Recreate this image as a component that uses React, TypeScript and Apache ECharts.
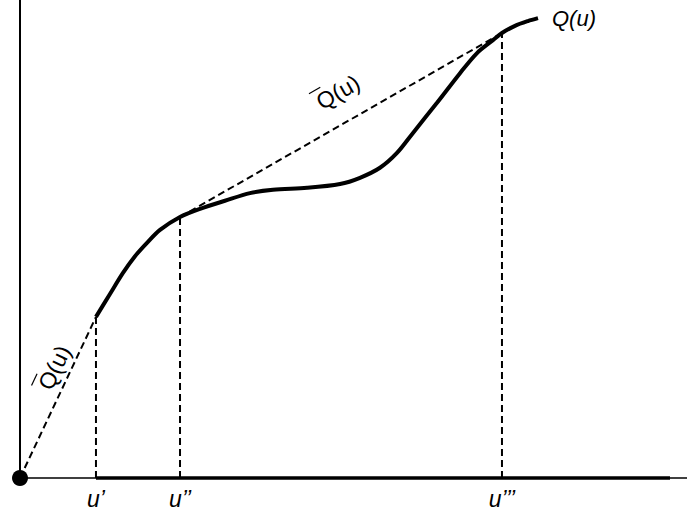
import React, { useEffect, useRef } from "react";
import * as echarts from "echarts";

// Curve Q(u): sampled points (u, Q)
const uValues = [11.39, 13.49, 15.44, 17.24, 19.04, 20.99, 23.99, 26.99, 30.73, 34.48, 37.93, 43.03, 47.98, 50.97, 53.97, 56.52, 58.92, 62.52, 65.97, 68.52, 70.91, 72.26, 74.21, 76.16, 77.66];
const qValues = [33.7, 38.5, 42.9, 46.4, 49.2, 51.9, 54.6, 56.3, 58.0, 59.6, 60.3, 60.7, 61.5, 62.8, 64.9, 68.0, 72.2, 78.5, 84.7, 88.9, 91.6, 93.1, 94.6, 95.6, 96.2];

// Marked abscissae and their curve heights
const markU = [11.39, 23.99, 72.26];
const markQ = [33.7, 54.6, 93.1];
const markLabels = ["u\u2019", "u\u2019\u2019", "u\u2019\u2019\u2019"];

// Axis extent
const xMax = 100;
const yMax = 100;
const thickAxisEnd = 97.45;

const FONT = "'Liberation Sans', Arial, sans-serif";
const DASH = { color: "#000", width: 2, type: [7, 4] };

export default function App() {
  const ref = useRef<HTMLDivElement>(null);
  useEffect(() => {
    if (!ref.current) return;
    const chart = echarts.init(ref.current, null, { renderer: "svg" });
    const curve = uValues.map((u, i) => [u, qValues[i]]);
    const verticals = markU.map((u, i) => ({
      type: "line",
      data: [[u, 0], [u, markQ[i]]],
      symbol: "none",
      silent: true,
      clip: false,
      lineStyle: DASH,
      z: 3,
    }));
    const option: any = {
      animation: false,
      backgroundColor: "#fff",
      grid: { left: 20, right: 0, top: 0, bottom: 38, containLabel: false },
      xAxis: {
        type: "value",
        min: 0,
        max: xMax,
        splitLine: { show: false },
        axisTick: { show: false },
        axisLine: { show: true, lineStyle: { color: "#000", width: 1.5 } },
        axisLabel: {
          show: true,
          customValues: markU,
          formatter: (v: number) => {
            let best = 0;
            markU.forEach((m, i) => {
              if (Math.abs(m - v) < Math.abs(markU[best] - v)) best = i;
            });
            return markLabels[best];
          },
          fontFamily: FONT,
          fontStyle: "italic",
          fontSize: 23,
          color: "#000",
          margin: 9,
        },
      },
      yAxis: {
        type: "value",
        min: 0,
        max: yMax,
        splitLine: { show: false },
        axisTick: { show: false },
        axisLabel: { show: false },
        axisLine: { show: true, lineStyle: { color: "#000", width: 2 } },
      },
      series: [
        {
          type: "line",
          data: [[markU[0], 0], [thickAxisEnd, 0]],
          symbol: "none",
          silent: true,
          clip: false,
          lineStyle: { color: "#000", width: 3.5 },
          z: 4,
        },
        {
          type: "line",
          data: [[0, 0], [markU[0], markQ[0]]],
          symbol: "none",
          silent: true,
          clip: false,
          lineStyle: DASH,
          z: 3,
        },
        {
          type: "line",
          data: [[markU[1], markQ[1]], [markU[2], markQ[2]]],
          symbol: "none",
          silent: true,
          clip: false,
          lineStyle: DASH,
          z: 3,
        },
        ...verticals,
        {
          type: "line",
          data: curve,
          symbol: "none",
          smooth: 0.3,
          silent: true,
          clip: false,
          lineStyle: { color: "#000", width: 4 },
          endLabel: {
            show: true,
            formatter: "Q(u)",
            fontFamily: FONT,
            fontStyle: "italic",
            fontSize: 22,
            color: "#000",
            distance: 14,
          },
          z: 5,
        },
        {
          type: "scatter",
          data: [[0, 0]],
          symbolSize: 16,
          clip: false,
          silent: true,
          itemStyle: { color: "#000", opacity: 1 },
          z: 6,
        },
      ],
    };
    chart.setOption(option);

    // Q-bar labels placed along the dashed chords
    const makeLabel = (a: number[], b: number[], t: number, off: number) => {
      const p1 = chart.convertToPixel({ gridIndex: 0 }, a) as number[];
      const p2 = chart.convertToPixel({ gridIndex: 0 }, b) as number[];
      const dx = p2[0] - p1[0];
      const dy = p2[1] - p1[1];
      const len = Math.hypot(dx, dy);
      const ux = dx / len;
      const uy = dy / len;
      const nx = uy;
      const ny = -ux;
      const cx = p1[0] + dx * t + nx * off;
      const cy = p1[1] + dy * t + ny * off;
      const ang = Math.atan2(-dy, dx);
      return {
        type: "group",
        x: cx,
        y: cy,
        rotation: ang,
        silent: true,
        children: [
          {
            type: "text",
            x: 0,
            y: 0,
            style: {
              text: "Q(u)",
              fontFamily: FONT,
              fontSize: 23,
              fill: "#000",
              align: "center",
              verticalAlign: "middle",
            },
          },
          {
            type: "line",
            shape: { x1: -26, y1: -13, x2: -13, y2: -13 },
            style: { stroke: "#000", lineWidth: 1.2 },
          },
        ],
      };
    };
    chart.setOption({
      graphic: [
        makeLabel([markU[1], markQ[1]], [markU[2], markQ[2]], 0.537, 30),
        makeLabel([0, 0], [markU[0], markQ[0]], 0.643, 16),
      ],
    });
    return () => chart.dispose();
  }, []);
  return (
    <div
      ref={ref}
      style={{ position: "absolute", left: 0, top: 0, width: 687, height: 516 }}
    />
  );
}
